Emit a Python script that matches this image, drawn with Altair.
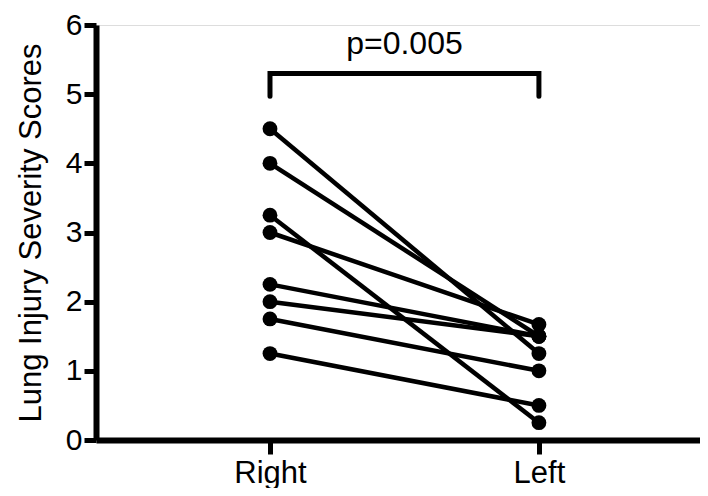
import altair as alt
import pandas as pd

# Paired scores per subject
right_scores = [4.5, 4.0, 3.25, 3.0, 2.25, 2.0, 1.75, 1.25]
left_scores = [1.25, 1.5, 0.25, 1.67, 1.5, 1.5, 1.0, 0.5]
sides = ["Right", "Left"]
side_pos = [0, 1]

# significance bracket
bracket_x = [0, 0, 1, 1]
bracket_y = [4.97, 5.3, 5.3, 4.97]
p_label = "p=0.005"
p_x = 0.5
p_y = 5.72

rows = []
for i, (r, l) in enumerate(zip(right_scores, left_scores)):
    rows.append({"id": i, "x": side_pos[0], "score": r})
    rows.append({"id": i, "x": side_pos[1], "score": l})
df = pd.DataFrame(rows)

FONT = "Liberation Sans"

xscale = alt.Scale(domain=[-0.647, 1.599], nice=False, zero=False)
yscale = alt.Scale(domain=[0, 6], nice=False)

xaxis = alt.Axis(
    values=side_pos,
    labelExpr="datum.value == 0 ? 'Right' : 'Left'",
    title=None,
    grid=False,
    domainColor="black",
    domainWidth=6,
    tickColor="black",
    tickWidth=5,
    tickSize=14,
    labelFontSize=31,
    labelFont=FONT,
    labelColor="black",
    labelPadding=4,
)
yaxis = alt.Axis(
    values=[0, 1, 2, 3, 4, 5, 6],
    format="d",
    title="Lung Injury Severity Scores",
    titleFontSize=31,
    titleFont=FONT,
    titleFontWeight="normal",
    titleColor="black",
    titlePadding=18,
    grid=False,
    domainColor="black",
    domainWidth=6,
    tickColor="black",
    tickWidth=5,
    tickSize=12,
    labelFontSize=30,
    labelFont=FONT,
    labelColor="black",
    labelPadding=2,
)

base = alt.Chart(df)
lines = base.mark_line(color="black", strokeWidth=4.5).encode(
    x=alt.X("x:Q", scale=xscale, axis=xaxis),
    y=alt.Y("score:Q", scale=yscale, axis=yaxis),
    detail="id:N",
)
points = base.mark_circle(color="black", size=220, opacity=1).encode(
    x=alt.X("x:Q", scale=xscale),
    y=alt.Y("score:Q", scale=yscale),
)

bdf = pd.DataFrame({"x": bracket_x, "y": bracket_y, "o": list(range(4))})
bracket = alt.Chart(bdf).mark_line(color="black", strokeWidth=5, strokeCap="round", strokeJoin="miter").encode(
    x=alt.X("x:Q", scale=xscale),
    y=alt.Y("y:Q", scale=yscale),
    order="o:Q",
)
tdf = pd.DataFrame({"x": [p_x], "y": [p_y], "t": [p_label]})
ptext = alt.Chart(tdf).mark_text(fontSize=32, font=FONT, color="black", baseline="middle", align="center").encode(
    x=alt.X("x:Q", scale=xscale),
    y=alt.Y("y:Q", scale=yscale),
    text="t:N",
)

chart = alt.layer(lines, points, bracket, ptext).properties(
    width=604,
    height=415,
    autosize=alt.AutoSizeParams(type="none"),
    padding={"left": 88, "top": 17, "right": 0, "bottom": 48},
).configure_view(stroke=None).configure(background="white")

chart.save("out.html", embed_options={"renderer": "svg", "actions": False})
